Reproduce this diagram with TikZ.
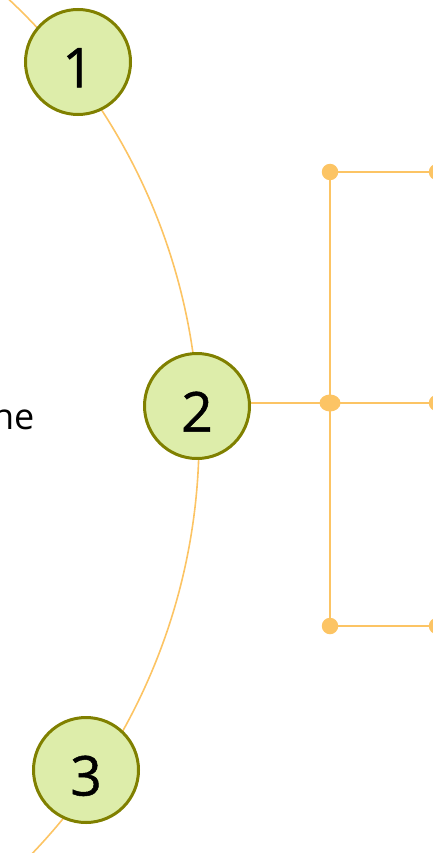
\documentclass[tikz,border=0pt]{standalone}
\usepackage{fontspec}
\setmainfont{Open Sans}
\newfontfamily\digitfont{Open Sans}[FakeBold=0.9]
\usetikzlibrary{shapes.geometric}
\definecolor{ringline}{RGB}{252,196,100}
\definecolor{stepfill}{RGB}{221,237,170}
\definecolor{stepedge}{RGB}{128,128,0}
\tikzset{
  stepcircle/.style={circle, draw=stepedge, fill=stepfill, line width=3pt,
    minimum size=105pt, inner sep=0pt, font=\digitfont\fontsize{55}{60}\selectfont,
    text height=51pt, text depth=0pt},
  arcline/.style={draw=ringline, line width=1.6pt},
  branch/.style={draw=ringline, line width=2.2pt},
  dot/.style={circle, fill=ringline, minimum size=16.5pt, inner sep=0pt},
  hubdot/.style={ellipse, fill=ringline, minimum width=21pt, minimum height=17pt, inner sep=0pt},
}
\begin{document}
\begin{tikzpicture}[x=1pt,y=1pt]
\useasboundingbox (0,0) rectangle (433,-853);
\clip (0,0) rectangle (433,-853);
% large arc running behind the numbered steps
\draw[arcline] (-402,-438) ++(50:601) arc[start angle=50, end angle=-48, radius=601];
% numbered steps
\node[stepcircle] (s2) at (197,-406) {2};
% branch positions
\coordinate (p1) at (330,-172);
\coordinate (pm) at (330,-403);
\coordinate (p3) at (330,-626);
\coordinate (q1) at (437,-172);
\coordinate (q2) at (437,-403);
\coordinate (q3) at (437,-626);
\draw[branch] (p1) -- (p3);
\draw[branch] (p1) -- (q1);
\draw[branch] (s2.east |- pm) -- (q2);
\draw[branch] (p3) -- (q3);
\node[dot] (d1) at (p1) {};
\node[hubdot] (dm) at (pm) {};
\node[dot] (d3) at (p3) {};
\node[dot] (e1) at (q1) {};
\node[dot] (e2) at (q2) {};
\node[dot] (e3) at (q3) {};
\node[stepcircle] (s1) at (78,-62) {1};
\node[stepcircle] (s3) at (86,-770) {3};
% label text, its start runs past the left edge
\node[anchor=base east, font=\fontsize{36}{42}\selectfont, inner sep=0pt] (lbl) at (34.5,-429) {ne};
\end{tikzpicture}
\end{document}
